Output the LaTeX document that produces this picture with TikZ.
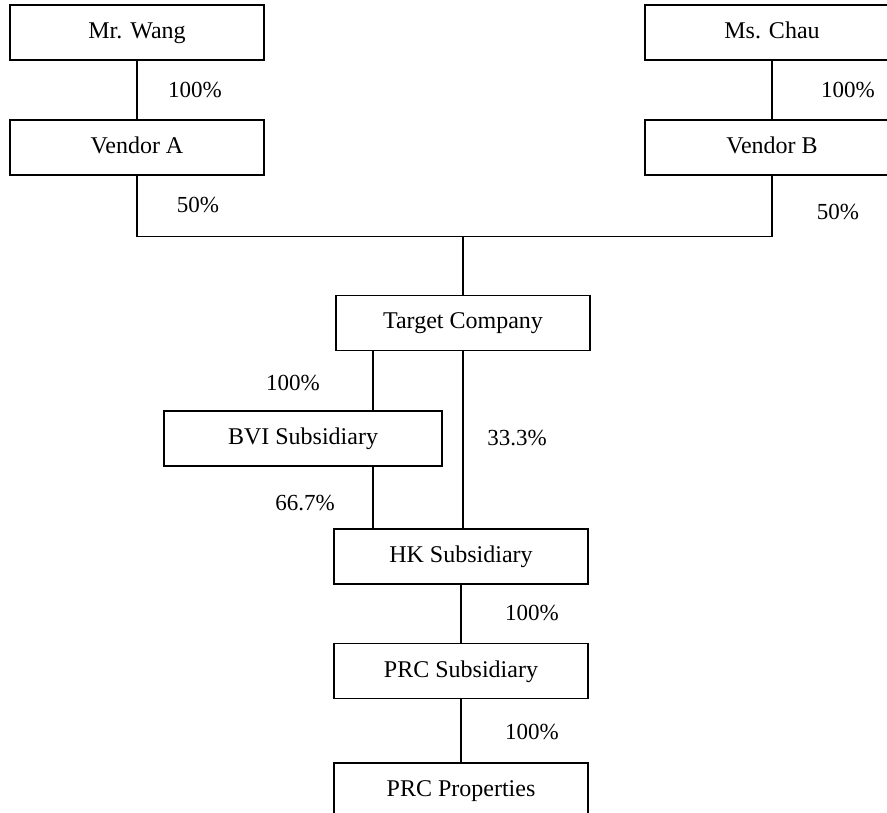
\documentclass[tikz,border=0pt]{standalone}
\usepackage{fontspec}
\setmainfont{Liberation Serif}

\begin{document}
\begin{tikzpicture}[x=1pt, y=-1pt, line width=1.1pt,
        box/.style={draw, minimum width=254pt, minimum height=55pt, text height=16pt, text depth=4pt,
            font=\fontsize{24}{28}\selectfont},
        pct/.style={font=\fontsize{23}{28}\selectfont}]
        \useasboundingbox (0, 0) rectangle (887, 813);

        \node[box] at (137, 32.5)     (wang)    {Mr. Wang};
        \node[box] at (772, 32.5)     (chau)    {Ms. Chau};
        \node[box] at (137, 147.5)    (vendA)   {Vendor A};
        \node[box] at (772, 147.5)    (vendB)   {Vendor B};
        \node[box] at (463, 323)      (target)  {Target Company};
        \node[box, minimum width=278pt] at (303, 438.5) (bvi) {BVI Subsidiary};
        \node[box] at (461, 556.5)    (hk)      {HK Subsidiary};
        \node[box] at (461, 671)      (prcsub)  {PRC Subsidiary};
        \node[box] at (461, 790.5)    (prcprop) {PRC Properties};

        \node[pct] at (195, 90)       (pA)   {100\%};
        \node[pct] at (848, 90)       (pB)   {100\%};
        \node[pct] at (198, 205)      (pC)   {50\%};
        \node[pct] at (838, 212)      (pD)   {50\%};
        \node[pct] at (293, 383)      (pE)   {100\%};
        \node[pct] at (517, 438)      (pF)   {33.3\%};
        \node[pct] at (305, 503)      (pG)   {66.7\%};
        \node[pct] at (532, 613)      (pH)   {100\%};
        \node[pct] at (532, 732)      (pI)   {100\%};

        \coordinate (join) at (463, 236.5);
        \coordinate (rail) at (373, 0);

        \draw (wang) -- (vendA);
        \draw (chau) -- (vendB);
        \draw (vendA.south) |- (join) -| (vendB.south);
        \draw (join) -- (target.north);
        \draw (target.south -| rail) -- (bvi.north -| rail);
        \draw (bvi.south -| rail) -- (hk.north -| rail);
        \draw (target.south) -- (target.south |- hk.north);
        \draw (hk) -- (prcsub);
        \draw (prcsub) -- (prcprop);
    \end{tikzpicture}
\end{document}
